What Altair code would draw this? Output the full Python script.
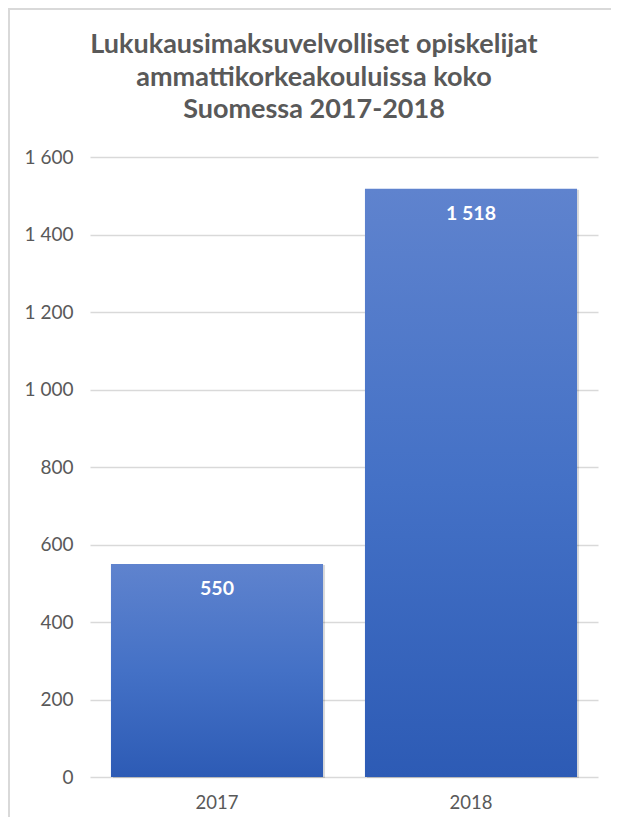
import altair as alt
import pandas as pd

# ---- data ----
years = ["2017", "2018"]
students = [550, 1518]
y_ticks = [0, 200, 400, 600, 800, 1000, 1200, 1400, 1600]
title_lines = [
    "Lukukausimaksuvelvolliset opiskelijat",
    "ammattikorkeakouluissa koko",
    "Suomessa 2017-2018",
]

df = pd.DataFrame({"year": years, "students": students})

W, H = 508, 620
PAD = {"left": 82, "top": 149, "right": 13, "bottom": 40}
TEXT_GRAY = "#595959"
GRID = "#D9D9D9"
FONT = "Lato"

gradient = alt.LinearGradient(
    gradient="linear",
    stops=[
        alt.GradientStop(color="#5F83CE", offset=0),
        alt.GradientStop(color="#4471C6", offset=0.5),
        alt.GradientStop(color="#2D5BB5", offset=1),
    ],
    x1=0, x2=0, y1=0, y2=1,
)

x_enc = alt.X(
    "year:N", sort=years,
    scale=alt.Scale(paddingInner=0.165, paddingOuter=0.0825),
    axis=alt.Axis(title=None, labelAngle=0, domain=False, ticks=False,
                  labelPadding=16, labelFont=FONT, labelFontSize=18.5,
                  labelColor=TEXT_GRAY),
)
y_enc = alt.Y(
    "students:Q",
    scale=alt.Scale(domain=[0, 1600], nice=False),
    axis=alt.Axis(title=None, values=y_ticks, domain=False, ticks=False,
                  grid=True, gridColor=GRID, gridWidth=1.3,
                  labelPadding=17, labelFont=FONT, labelFontSize=19,
                  labelColor=TEXT_GRAY,
                  labelExpr="replace(format(datum.value, ','), ',', ' ')"),
)

base = alt.Chart(df).encode(x=x_enc, y=y_enc)

shadow = base.mark_bar(color="#000000", opacity=0.14, xOffset=2, yOffset=1)
bars = base.mark_bar(color=gradient)
labels = base.transform_calculate(
    label="replace(format(datum.students, ','), ',', ' ')"
).mark_text(font=FONT, fontSize=19.5, fontWeight="bold", color="white",
            baseline="middle", dy=25).encode(text="label:N")

frame_df = pd.DataFrame({"k": [0]})
border_top = alt.Chart(frame_df).mark_rule(color=GRID, strokeWidth=2).encode(
    x=alt.value(-82), x2=alt.value(W + PAD["right"]), y=alt.value(-148)
)
border_left = alt.Chart(frame_df).mark_rule(color=GRID, strokeWidth=2).encode(
    x=alt.value(-81), y=alt.value(-149), y2=alt.value(H + PAD["bottom"])
)

chart = alt.layer(shadow, bars, labels, border_top, border_left).properties(
    width=W, height=H,
    padding=PAD,
    autosize=alt.AutoSizeParams(type="none"),
    title=alt.TitleParams(
        text=title_lines, font=FONT, fontSize=27, fontWeight="bold",
        color=TEXT_GRAY, anchor="middle", frame="group", dx=-30,
        baseline="alphabetic", dy=160,
        lineHeight=32.5, offset=22,
    ),
).configure_view(stroke=None)

chart.save("out.html", embed_options={"renderer": "svg", "actions": False})
